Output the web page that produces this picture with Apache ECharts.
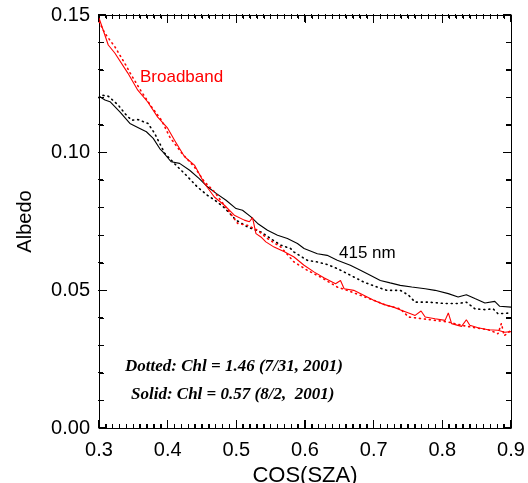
<!DOCTYPE html>
<html><head><meta charset="utf-8">
<script src="https://cdn.jsdelivr.net/npm/echarts@6/dist/echarts.min.js"></script>
<style>html,body{margin:0;padding:0;background:#fff}#c{width:528px;height:483px}</style>
</head><body><div id="c"></div>
<script>
var xTicks = [0.3, 0.9, 0.1];
var yTicks = [0, 0.15, 0.05];
var xMinorStep = 0.01;
var yMinorStep = 0.01;

var broadbandSolid = [[0.300,0.1489],[0.3135,0.1391],[0.323,0.1362],[0.342,0.1289],[0.3565,0.1227],[0.371,0.1184],[0.3855,0.1129],[0.400,0.1089],[0.410,0.1045],[0.4246,0.0985],[0.439,0.0955],[0.4536,0.0888],[0.468,0.0839],[0.4826,0.0809],[0.497,0.0773],[0.5116,0.0755],[0.519,0.0749],[0.5236,0.0764],[0.5286,0.0706],[0.5358,0.0694],[0.543,0.0676],[0.555,0.0657],[0.570,0.0640],[0.584,0.0621],[0.5986,0.0591],[0.613,0.0567],[0.6275,0.0546],[0.6445,0.0524],[0.6517,0.0536],[0.657,0.0506],[0.671,0.0500],[0.6855,0.0482],[0.700,0.0464],[0.7145,0.0449],[0.729,0.0439],[0.741,0.0427],[0.751,0.0418],[0.7604,0.0409],[0.769,0.0425],[0.775,0.0403],[0.7894,0.0397],[0.804,0.0391],[0.8087,0.0418],[0.8135,0.0379],[0.828,0.0369],[0.835,0.0393],[0.840,0.0373],[0.852,0.0364],[0.8667,0.0357],[0.881,0.0355],[0.891,0.0348],[0.900,0.0350]];

var broadbandDotted = [[0.300,0.1476],[0.3087,0.1433],[0.323,0.1385],[0.3377,0.1324],[0.347,0.1282],[0.3619,0.1221],[0.3764,0.1167],[0.391,0.1118],[0.403,0.1057],[0.420,0.1000],[0.439,0.0948],[0.4536,0.0894],[0.468,0.0858],[0.4826,0.0809],[0.502,0.0743],[0.5164,0.0736],[0.531,0.0718],[0.5454,0.0688],[0.5648,0.0657],[0.584,0.0603],[0.6033,0.0573],[0.6228,0.0548],[0.647,0.0512],[0.6613,0.0500],[0.6807,0.0482],[0.700,0.0464],[0.7193,0.0445],[0.7387,0.0433],[0.751,0.0403],[0.770,0.0397],[0.7894,0.0391],[0.8087,0.0385],[0.828,0.0373],[0.8474,0.0364],[0.8667,0.0357],[0.876,0.0348],[0.881,0.0342],[0.886,0.0380],[0.890,0.0335],[0.900,0.0355]];

var nm415Solid = [[0.300,0.1205],[0.3087,0.1191],[0.316,0.1185],[0.3304,0.1148],[0.345,0.1106],[0.3594,0.1088],[0.369,0.1076],[0.379,0.1052],[0.3884,0.1015],[0.393,0.1003],[0.405,0.0967],[0.4174,0.0961],[0.432,0.0936],[0.446,0.0906],[0.458,0.0876],[0.4706,0.0852],[0.485,0.0827],[0.4996,0.0797],[0.509,0.0791],[0.5213,0.0767],[0.531,0.0743],[0.5454,0.0718],[0.560,0.0700],[0.5744,0.0688],[0.589,0.0670],[0.5986,0.0652],[0.618,0.0633],[0.6323,0.0627],[0.647,0.0609],[0.666,0.0591],[0.6807,0.0573],[0.695,0.0555],[0.7097,0.0536],[0.724,0.0527],[0.7387,0.0518],[0.7555,0.0512],[0.775,0.0506],[0.7894,0.0500],[0.8087,0.0488],[0.823,0.0476],[0.835,0.0484],[0.8474,0.0470],[0.862,0.0454],[0.8764,0.0460],[0.8836,0.0442],[0.900,0.0439]];

var nm415Dotted = [[0.300,0.1200],[0.304,0.1209],[0.3135,0.1205],[0.328,0.1173],[0.3377,0.1142],[0.3474,0.1118],[0.357,0.1120],[0.3715,0.1106],[0.381,0.1070],[0.391,0.1021],[0.3957,0.0998],[0.410,0.0960],[0.427,0.0918],[0.443,0.0876],[0.458,0.0845],[0.470,0.0825],[0.4826,0.0800],[0.4996,0.0755],[0.5164,0.0730],[0.5358,0.0712],[0.550,0.0688],[0.5648,0.0664],[0.579,0.0652],[0.584,0.0639],[0.6033,0.0609],[0.618,0.0603],[0.6323,0.0594],[0.647,0.0579],[0.666,0.0555],[0.6855,0.0530],[0.705,0.0512],[0.7193,0.0500],[0.7387,0.0500],[0.751,0.0482],[0.7604,0.0457],[0.7797,0.0457],[0.804,0.0452],[0.823,0.0452],[0.835,0.0457],[0.8474,0.0433],[0.862,0.0430],[0.874,0.0433],[0.881,0.0415],[0.900,0.0418]];

var chart = echarts.init(document.getElementById('c'), null, {renderer:'canvas'});
var FONT = "'Liberation Sans', Arial, Helvetica, sans-serif";
var SERIF = "italic bold 17px 'Liberation Serif', 'Times New Roman', serif";

// tick-only frame axes (kept as plain as possible)
function xTickAx(pos){
  return {type:'value', position:pos, min:xTicks[0], max:xTicks[1], interval:xTicks[2],
    axisLine:{show:true, onZero:false, lineStyle:{color:'#000', width:1}},
    splitLine:{show:false}, axisLabel:{show:false},
    axisTick:{show:true, inside:true, length:8, lineStyle:{color:'#000', width:1}},
    minorTick:{show:true, splitNumber:10, length:4, lineStyle:{color:'#000', width:1}}};
}
function yTickAx(pos){
  return {type:'value', position:pos, min:yTicks[0], max:yTicks[1], interval:yTicks[2],
    axisLine:{show:true, onZero:false, lineStyle:{color:'#000', width:1}},
    splitLine:{show:false}, axisLabel:{show:false},
    axisTick:{show:true, inside:true, length:8, lineStyle:{color:'#000', width:1}},
    minorTick:{show:true, splitNumber:5, length:5, lineStyle:{color:'#000', width:1}}};
}
// label-only axes
var xLabelAx = {type:'value', position:'bottom', min:xTicks[0], max:xTicks[1], interval:xTicks[2],
  axisLine:{show:false, onZero:false}, axisTick:{show:false}, splitLine:{show:false},
  axisLabel:{show:true, color:'#000', fontSize:20, fontFamily:FONT, margin:12,
    formatter:function(v){return v.toFixed(1);}},
  name:'COS(SZA)', nameLocation:'middle', nameGap:23,
  nameTextStyle:{color:'#000', fontSize:22, fontFamily:FONT}};
var yLabelAx = {type:'value', position:'left', min:yTicks[0], max:yTicks[1], interval:yTicks[2],
  axisLine:{show:false, onZero:false}, axisTick:{show:false}, splitLine:{show:false},
  axisLabel:{show:true, color:'#000', fontSize:20, fontFamily:FONT, margin:9,
    formatter:function(v){return v.toFixed(2);}},
  name:'Albedo', nameLocation:'middle', nameGap:64,
  nameTextStyle:{color:'#000', fontSize:20, fontFamily:FONT}};

function ser(data, color, dotted){
  return {type:'line', data:data, xAxisIndex:0, yAxisIndex:0, showSymbol:false, symbol:'none', smooth:false,
    lineStyle: dotted ? {color:color, width:1.6, type:[1,4], cap:'round'} : {color:color, width:1.1}};
}
var texts = [
  {type:'text', left:140, top:69, style:{text:'Broadband', fill:'#ff0000', font:"17px "+FONT}},
  {type:'text', left:339, top:245, style:{text:'415 nm', fill:'#000', font:"17px "+FONT}},
  {type:'text', left:125, top:358, style:{text:'Dotted: Chl = 1.46 (7/31, 2001)', fill:'#000', font:SERIF}},
  {type:'text', left:131, top:386, style:{text:'Solid: Chl = 0.57 (8/2,  2001)', fill:'#000', font:SERIF}}
];
chart.setOption({
  animation:false,
  grid:{left:99, right:17, top:15, bottom:55, outerBoundsMode:'none'},
  xAxis:[xTickAx('bottom'), xTickAx('top'), xLabelAx],
  yAxis:[yTickAx('left'), yTickAx('right'), yLabelAx],
  series:[
    ser(nm415Dotted, '#000', true),
    ser(nm415Solid, '#000', false),
    ser(broadbandDotted, '#ff0000', true),
    ser(broadbandSolid, '#ff0000', false)
  ],
  graphic:texts
});

// Backup inward tick marks as filled rects, positioned through the grid's scales
try {
  var tickEls = [];
  var sub = function(p){ var d = Math.round(p * 2); return (d + 1) % 2 === 0 ? d / 2 : (d - 1) / 2; };
  var pt = function(x, y){ return chart.convertToPixel('grid', [x, y]); };
  var addRect = function(x, y, w, h){
    tickEls.push({type:'rect', silent:true, z:100, shape:{x:x, y:y, width:w, height:h}, style:{fill:'#000'}});
  };
  var xMin = xTicks[0], xMax = xTicks[1], yMin = yTicks[0], yMax = yTicks[1];
  var nx = Math.round((xMax - xMin) / xMinorStep), xPer = Math.round(xTicks[2] / xMinorStep);
  var b0 = pt(xMin, yMin), t0 = pt(xMin, yMax);
  var yb = Math.floor(sub(b0[1])), yt = Math.floor(sub(t0[1]));
  for (var i = 0; i <= nx; i++) {
    var v = +(xMin + i * xMinorStep).toFixed(4);
    var len = (i % xPer === 0) ? 8 : 4;
    var cx = Math.floor(sub(pt(v, yMin)[0]));
    addRect(cx, yb - len + 1, 1, len);
    addRect(cx, yt, 1, len);
  }
  var ny = Math.round((yMax - yMin) / yMinorStep), yPer = Math.round(yTicks[2] / yMinorStep);
  var xl = Math.floor(sub(pt(xMin, yMin)[0])), xr = Math.floor(sub(pt(xMax, yMin)[0]));
  for (var j = 0; j <= ny; j++) {
    var w = +(yMin + j * yMinorStep).toFixed(4);
    var leny = (j % yPer === 0) ? 8 : 5;
    var cy = Math.floor(sub(pt(xMin, w)[1]));
    addRect(xl, cy, leny, 1);
    addRect(xr - leny + 1, cy, leny, 1);
  }
  chart.setOption({graphic: texts.concat(tickEls)});
} catch (e) { console.error(e); }
</script></body></html>
